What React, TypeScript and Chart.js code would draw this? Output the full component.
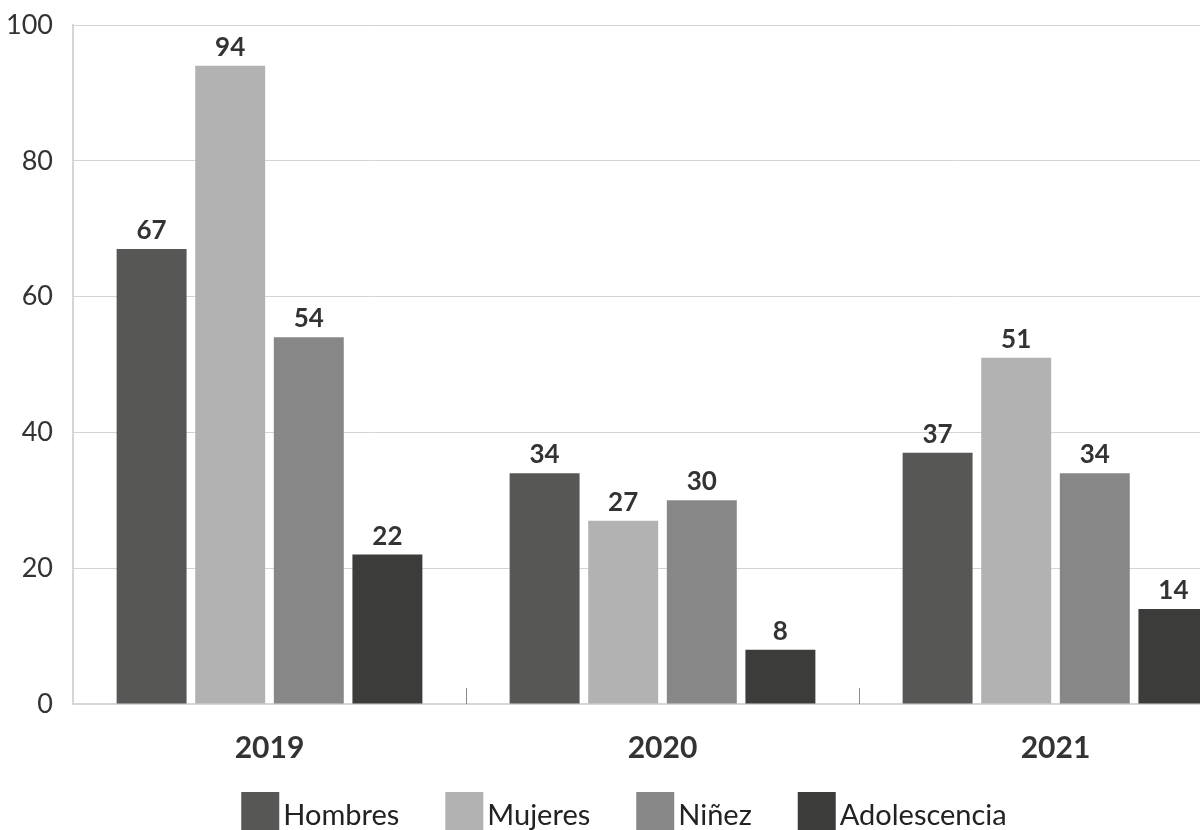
import React, { useEffect, useRef } from "react";
import { Chart, registerables } from "chart.js";

Chart.register(...registerables);

const categories = ["2019", "2020", "2021"];
const seriesNames = ["Hombres", "Mujeres", "Niñez", "Adolescencia"];
const hombres = [67, 34, 37];
const mujeres = [94, 27, 51];
const ninez = [54, 30, 34];
const adolescencia = [22, 8, 14];
const yTicks = [0, 20, 40, 60, 80, 100];

const colors = ["#575756", "#b2b2b2", "#878787", "#3c3c3b"];
const FONT = "Lato, 'Open Sans', sans-serif";

const valueLabels = {
  id: "valueLabels",
  afterDatasetsDraw(chart: any) {
    const ctx = chart.ctx;
    ctx.save();
    ctx.font = `bold 26px ${FONT}`;
    ctx.fillStyle = "#333333";
    ctx.textAlign = "center";
    ctx.textBaseline = "alphabetic";
    chart.data.datasets.forEach((ds: any, di: number) => {
      const meta = chart.getDatasetMeta(di);
      meta.data.forEach((bar: any, i: number) => {
        ctx.fillText(String(ds.data[i]), bar.x, bar.y - 10);
      });
    });
    ctx.restore();
  },
};

const betweenTicks = {
  id: "betweenTicks",
  afterDraw(chart: any) {
    const x = chart.scales.x;
    const ctx = chart.ctx;
    const bottom = chart.chartArea.bottom;
    ctx.save();
    ctx.strokeStyle = "#8a8a8a";
    ctx.lineWidth = 1;
    for (let i = 0; i < categories.length - 1; i++) {
      const px = Math.round((x.getPixelForValue(i) + x.getPixelForValue(i + 1)) / 2) + 0.5;
      ctx.beginPath();
      ctx.moveTo(px, bottom - 16);
      ctx.lineTo(px, bottom);
      ctx.stroke();
    }
    ctx.restore();
  },
};

const customLegend = {
  id: "customLegend",
  afterDraw(chart: any) {
    const ctx = chart.ctx;
    const box = 38;
    const gapText = 4;
    const gapItem = 46;
    ctx.save();
    ctx.font = `29px ${FONT}`;
    const ds = chart.data.datasets;
    const widths = ds.map((d: any) => ctx.measureText(d.label).width);
    let total = 0;
    widths.forEach((w: number, i: number) => {
      total += box + gapText + w + (i < widths.length - 1 ? gapItem : 0);
    });
    let x = chart.width / 2 - total / 2 - 6;
    const top = 792;
    ds.forEach((d: any, i: number) => {
      ctx.fillStyle = d.backgroundColor;
      ctx.fillRect(x, top, box, box);
      ctx.fillStyle = "#222222";
      ctx.textAlign = "left";
      ctx.textBaseline = "alphabetic";
      ctx.fillText(d.label, x + box + gapText, 825);
      x += box + gapText + widths[i] + gapItem;
    });
    ctx.restore();
  },
};

export default function App() {
  const ref = useRef<HTMLCanvasElement | null>(null);

  useEffect(() => {
    if (!ref.current) return;
    const values = [hombres, mujeres, ninez, adolescencia];
    const chart = new Chart(ref.current, {
      type: "bar",
      data: {
        labels: categories,
        datasets: seriesNames.map((name, i) => ({
          label: name,
          data: values[i],
          backgroundColor: colors[i],
          borderWidth: 0,
          categoryPercentage: 0.8,
          barPercentage: 0.89,
        })),
      },
      options: {
        animation: false,
        responsive: false,
        layout: { padding: { left: 0, top: 25, right: 8, bottom: 0 } },
        plugins: {
          legend: { display: false },
          tooltip: { enabled: false },
          title: { display: false },
        },
        scales: {
          x: {
            grid: { display: false, drawTicks: false },
            border: { display: true, color: "#d6d6d6", width: 2 },
            ticks: {
              font: { family: FONT, size: 30, weight: "bold" },
              color: "#333333",
              padding: 26,
            },
            afterFit(scale: any) {
              scale.height = 126;
            },
          },
          y: {
            min: 0,
            max: 100,
            afterBuildTicks(scale: any) {
              scale.ticks = yTicks.map((v) => ({ value: v }));
            },
            grid: { color: "#d4d4d4", lineWidth: 1, drawTicks: false },
            border: { display: true, color: "#d6d6d6", width: 2 },
            ticks: {
              font: { family: FONT, size: 27 },
              color: "#333333",
              padding: 20,
            },
            afterFit(scale: any) {
              scale.width = 73;
              scale.paddingTop = 0;
              scale.paddingBottom = 0;
            },
          },
        },
      },
      plugins: [valueLabels, betweenTicks, customLegend],
    });
    return () => chart.destroy();
  }, []);

  return (
    <div
      style={{
        position: "fixed",
        left: 0,
        top: 0,
        width: 1200,
        height: 830,
        overflow: "hidden",
        background: "#ffffff",
      }}
    >
      <canvas ref={ref} width={1260} height={830} style={{ display: "block" }} />
    </div>
  );
}
